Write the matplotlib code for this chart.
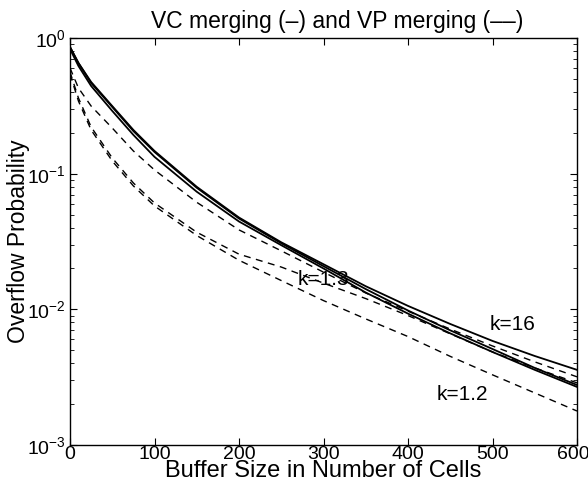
import matplotlib
matplotlib.use('Agg')
import matplotlib.pyplot as plt
import matplotlib.transforms as mtransforms

plt.rcParams['font.family'] = ['Liberation Sans', 'DejaVu Sans']

# buffer sizes (cells) at which the overflow probability was sampled
buf = [0, 10, 25, 50, 75, 100, 150, 200, 250, 300, 350, 400, 450, 500, 550, 600]

# VC merging (solid)
vc_k16 = [0.858, 0.654, 0.474, 0.315, 0.210, 0.147, 0.0800, 0.0475, 0.0312, 0.0215,
          0.0148, 0.0106, 0.00780, 0.00585, 0.00453, 0.00358]
vc_k13 = [0.858, 0.654, 0.466, 0.310, 0.206, 0.1445, 0.0787, 0.0467, 0.0307, 0.0208,
          0.0141, 0.0098, 0.00700, 0.0051, 0.0037, 0.00277]
vc_k12 = [0.830, 0.622, 0.443, 0.290, 0.193, 0.133, 0.0736, 0.0444, 0.0297, 0.0200,
          0.0133, 0.00930, 0.00665, 0.00485, 0.00358, 0.00268]

# VP merging (dashed)
vp_k16 = [0.601, 0.428, 0.315, 0.217, 0.147, 0.1065, 0.0615, 0.0385, 0.0270, 0.0188,
          0.0132, 0.0097, 0.00715, 0.00537, 0.0041, 0.00318]
vp_k13 = [0.562, 0.361, 0.221, 0.1305, 0.0854, 0.0608, 0.0370, 0.0255, 0.0205, 0.0156,
          0.0120, 0.00900, 0.00660, 0.00485, 0.0037, 0.00287]
vp_k12 = [0.543, 0.343, 0.210, 0.124, 0.0812, 0.0578, 0.0350, 0.0230, 0.0163, 0.0116,
          0.00850, 0.00630, 0.00450, 0.00329, 0.00242, 0.00178]

xticks = [0, 100, 200, 300, 400, 500, 600]
yticks = [1e-3, 1e-2, 1e-1, 1]
ytick_labels = [r'$\mathregular{10^{-3}}$', r'$\mathregular{10^{-2}}$',
                r'$\mathregular{10^{-1}}$', r'$\mathregular{10^{0}}$']

fig = plt.figure(figsize=(5.88, 4.84), dpi=100)
ax = fig.add_axes([70/588, 1 - 445/484, 507/588, 407/484])

for y in (vc_k16, vc_k13, vc_k12):
    ax.semilogy(buf, y, 'k-', lw=1.3)
for y in (vp_k16, vp_k13, vp_k12):
    ax.semilogy(buf, y, 'k--', lw=1.0, dashes=(5, 4))

ax.set_xlim(0, 600)
ax.set_ylim(1e-3, 1)
ax.set_xticks(xticks)
ax.set_yticks(yticks)
ax.set_yticklabels(ytick_labels)
ax.tick_params(which='both', direction='in', top=True, right=True, labelsize=14)
ax.tick_params(axis='x', pad=1)
ax.tick_params(axis='y', pad=3)
ax.tick_params(which='major', length=5)
ax.tick_params(which='minor', length=3)
for s in ax.spines.values():
    s.set_linewidth(1.0)

# keep the last x tick label inside the figure
last = ax.get_xticklabels()[-1]
last.set_transform(last.get_transform() +
                   mtransforms.ScaledTranslation(-4/100, 0, fig.dpi_scale_trans))

ax.text(269, 0.0167, 'k=1.3', fontsize=15, va='center', ha='left')
ax.text(497, 0.00768, 'k=16', fontsize=15, va='center', ha='left')
ax.text(434, 0.00234, 'k=1.2', fontsize=15, va='center', ha='left')

ax.set_title('VC merging (–) and VP merging (––)', fontsize=16.5, pad=7, x=0.527)
ax.set_xlabel('Buffer Size in Number of Cells', fontsize=17)
ax.xaxis.set_label_coords(0.5, -0.037)
ax.set_ylabel('Overflow Probability', fontsize=16.5)
ax.yaxis.set_label_coords(-0.079, 0.5)

fig.savefig('out.png', dpi=100)
